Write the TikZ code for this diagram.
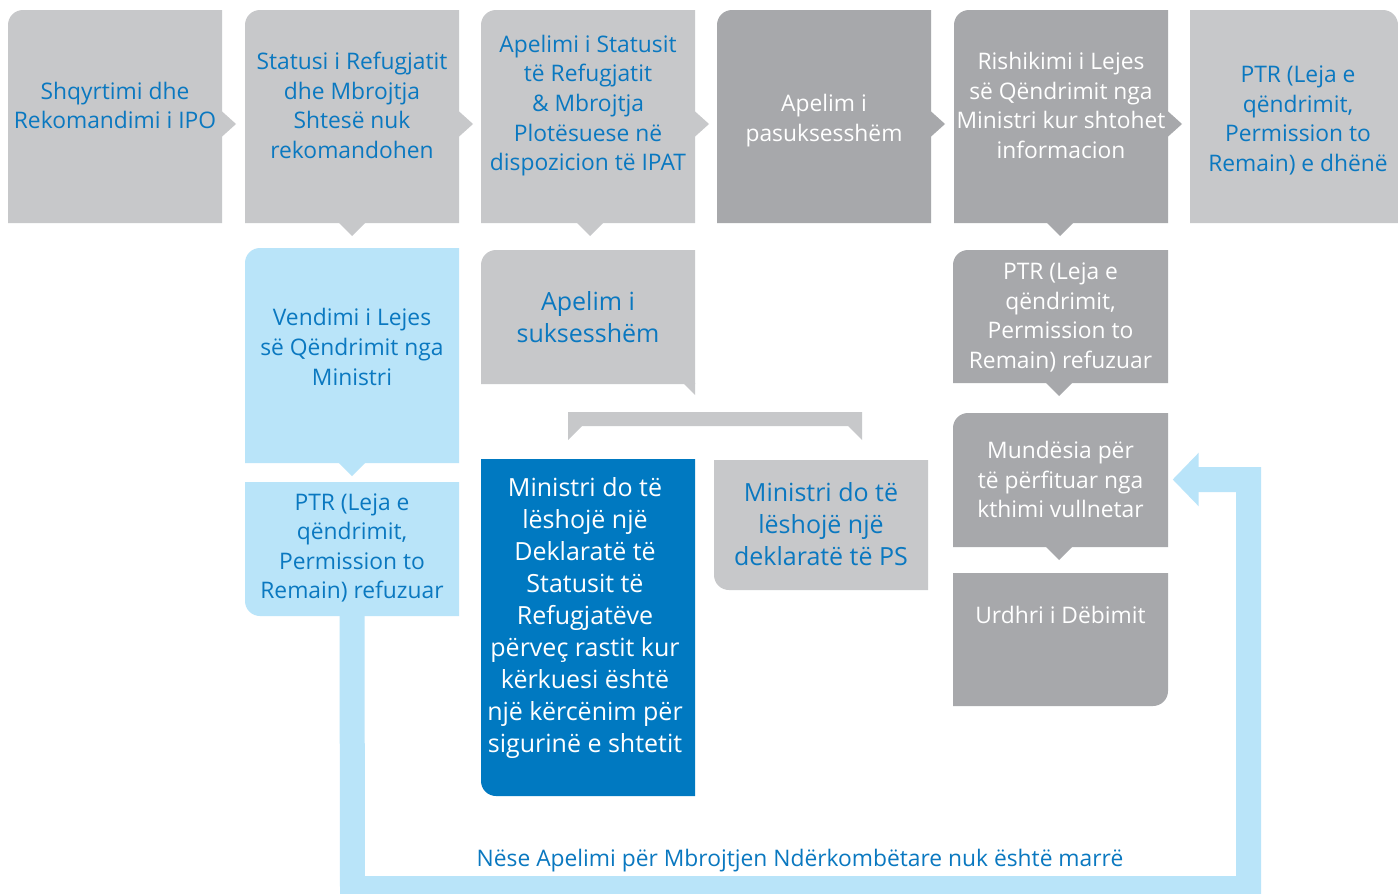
\documentclass[tikz,border=0pt]{standalone}
\usepackage{fontspec}
\setmainfont{Open Sans}
\usetikzlibrary{arrows.meta}
\definecolor{lgrey}{HTML}{C7C8CA}
\definecolor{dgrey}{HTML}{A7A8AB}
\definecolor{lblue}{HTML}{B9E4F9}
\definecolor{dblue}{HTML}{0079C1}
\definecolor{tblue}{HTML}{0A78C0}
% boxes with one rounded corner: left, top, right, bottom, colour
\newcommand{\tlbox}[5]{\fill[#5] (#1,-#4) -- (#1,-#2-15) arc[start angle=180,end angle=90,radius=15pt] -- (#3,-#2) -- (#3,-#4) -- cycle;}
\newcommand{\trbox}[5]{\fill[#5] (#1,-#2) -- (#3-15,-#2) arc[start angle=90,end angle=0,radius=15pt] -- (#3,-#4) -- (#1,-#4) -- cycle;}
\newcommand{\blbox}[5]{\fill[#5] (#1,-#2) -- (#3,-#2) -- (#3,-#4) -- (#1+15,-#4) arc[start angle=270,end angle=180,radius=15pt] -- cycle;}
\newcommand{\brbox}[5]{\fill[#5] (#1,-#2) -- (#3,-#2) -- (#3,-#4+15) arc[start angle=0,end angle=-90,radius=15pt] -- (#1,-#4) -- cycle;}
% pointers: edge x / centre y, or centre x / edge y
\newcommand{\rpoint}[3]{\fill[#3] (#1-1,-#2+13.5) -- (#1+14,-#2) -- (#1-1,-#2-13.5) -- cycle;}
\newcommand{\dpoint}[3]{\fill[#3] (#1-14,-#2+1) -- (#1,-#2-13) -- (#1+14,-#2+1) -- cycle;}
\tikzset{
  lab/.style={align=center, text=tblue, inner sep=0pt, minimum width=214pt,
    font=\fontsize{22.8}{29.6}\selectfont},
  wlab/.style={lab, text=white},
  big/.style={font=\fontsize{25}{32}\selectfont},
  loopline/.style={line width=25pt, lblue, line join=miter,
    -{Triangle[width=52pt,length=26pt]}, shorten >=5pt}
}
\begin{document}
\begin{tikzpicture}[x=1pt,y=1pt]
\path[use as bounding box, fill=white] (0,0) rectangle (1398,-894);
% top row
\foreach \x/\c in {8/lgrey,245/lgrey,481/lgrey,717/dgrey,954/dgrey}
  {\tlbox{\x}{10}{\x+214}{223}{\c}
   \rpoint{\x+214}{124}{\c}}
\trbox{1190}{10}{1398}{223}{lgrey}
\dpoint{352}{223}{lgrey}
\dpoint{590}{223}{lgrey}
\dpoint{1060}{223}{dgrey}
% lower rows
\tlbox{245}{248}{459}{463}{lblue}
\dpoint{352}{463}{lblue}
\blbox{245}{482}{459}{616}{lblue}
\tlbox{481}{250}{695}{384}{lgrey}
\fill[lgrey] (683,-383) -- (695,-383) -- (695,-395) -- cycle;
\fill[lgrey] (568,-412) -- (862,-412) -- (862,-440) -- (848,-426)
  -- (582,-426) -- (568,-440) -- cycle;
\blbox{481}{459}{695}{796}{dblue}
\blbox{714}{460}{928}{590}{lgrey}
\tlbox{953}{250}{1168}{383}{dgrey}
\dpoint{1059}{383}{dgrey}
\tlbox{953}{413}{1168}{547}{dgrey}
\dpoint{1059}{547}{dgrey}
\brbox{953}{573}{1168}{706}{dgrey}

\node[lab] (ipo) at (115,-105.5) {Shqyrtimi dhe\\Rekomandimi i IPO};
\node[lab] (nrec) at (352,-105.5) {Statusi i Refugjatit\\dhe Mbrojtja\\Shtesë nuk\\rekomandohen};
\node[lab] (apel) at (588,-105.5) {Apelimi i Statusit\\të Refugjatit\\\& Mbrojtja\\Plotësuese në\\dispozicion të IPAT};
\node[wlab] (fail) at (824,-120.5) {Apelim i\\pasuksesshëm};
\node[wlab] (rish) at (1061,-105.5) {Rishikimi i Lejes\\së Qëndrimit nga\\Ministri kur shtohet\\informacion};
\node[lab, minimum width=208pt] (given) at (1298,-120.5) {PTR (Leja e\\qëndrimit,\\Permission to\\Remain) e dhënë};
\node[lab] (vend) at (352,-347) {Vendimi i Lejes\\së Qëndrimit nga\\Ministri};
\node[lab] (ptrL) at (352,-548) {PTR (Leja e\\qëndrimit,\\Permission to\\Remain) refuzuar};
\node[lab, big] (succ) at (588,-317) {Apelim i\\suksesshëm};
\node[wlab, big] (decl) at (585,-618) {Ministri do të\\lëshojë një\\Deklaratë të\\Statusit të\\Refugjatëve\\përveç rastit kur\\kërkuesi është\\një kërcënim për\\sigurinë e shtetit};
\node[lab, big] (ps) at (821,-524) {Ministri do të\\lëshojë një\\deklaratë të PS};
\node[wlab] (ptrR) at (1060.5,-317.5) {PTR (Leja e\\qëndrimit,\\Permission to\\Remain) refuzuar};
\node[wlab] (mund) at (1060.5,-479.5) {Mundësia për\\të përfituar nga\\kthimi vullnetar};
\node[wlab] (deb) at (1060.5,-615) {Urdhri i Dëbimit};
\node[lab, minimum width=0pt] (cond) at (800,-861) {Nëse Apelimi për Mbrojtjen Ndërkombëtare nuk është marrë};

\draw[loopline] (ptrL.south) -- (352.5,-888.5) -| ([xshift=81pt]mund.east) -- (mund.east);
\end{tikzpicture}
\end{document}
